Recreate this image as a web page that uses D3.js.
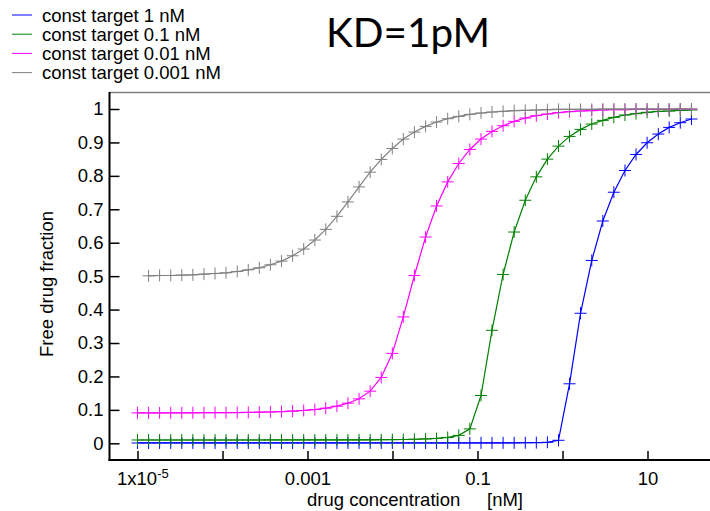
<!DOCTYPE html>
<html>
<head>
<meta charset="utf-8">
<script src="https://cdn.jsdelivr.net/npm/d3@7"></script>
<style>
body { margin: 0; background: #fff; }
text { font-family: "Liberation Sans", Arial, sans-serif; }
</style>
</head>
<body>
<svg id="chart" width="710" height="511"></svg>
<script>
// drug concentration [nM], one value per marker
var conc = [1.0e-5, 1.35e-5, 1.82e-5, 2.46e-5, 3.32e-5, 4.48e-5, 6.05e-5, 8.17e-5, 1.10e-4, 1.49e-4,
            2.01e-4, 2.71e-4, 3.66e-4, 4.95e-4, 6.68e-4, 9.02e-4, 1.22e-3, 1.64e-3, 2.22e-3, 2.99e-3,
            4.04e-3, 5.46e-3, 7.37e-3, 9.95e-3, 0.0134, 0.0181, 0.0245, 0.0330, 0.0446, 0.0602,
            0.0813, 0.110, 0.148, 0.200, 0.270, 0.365, 0.492, 0.664, 0.897, 1.21,
            1.63, 2.21, 2.98, 4.02, 5.43, 7.33, 9.89, 13.4, 18.0, 24.3, 32.9];

var target1 = [0.001, 0.001, 0.001, 0.001, 0.001, 0.001, 0.001, 0.001, 0.001, 0.001,
               0.001, 0.001, 0.001, 0.001, 0.001, 0.001, 0.001, 0.001, 0.001, 0.001,
               0.001, 0.001, 0.001, 0.001, 0.001, 0.001, 0.001, 0.001, 0.001, 0.001,
               0.001, 0.0011, 0.0012, 0.0013, 0.0014, 0.0016, 0.002, 0.003, 0.009, 0.178,
               0.389, 0.547, 0.665, 0.751, 0.816, 0.864, 0.899, 0.925, 0.945, 0.959, 0.970];

var target01 = [0.0099, 0.0099, 0.0099, 0.0099, 0.0099, 0.0099, 0.0099, 0.0099, 0.0099, 0.0099,
                0.0099, 0.0099, 0.0100, 0.0100, 0.0100, 0.0100, 0.0101, 0.0101, 0.0101, 0.0102,
                0.0103, 0.0105, 0.0107, 0.0110, 0.0114, 0.0121, 0.0131, 0.0146, 0.0175, 0.0237,
                0.0431, 0.143, 0.338, 0.505, 0.632, 0.727, 0.797, 0.850, 0.889, 0.918,
                0.939, 0.955, 0.966, 0.975, 0.982, 0.986, 0.990, 0.993, 0.994, 0.996, 0.997];

var target001 = [0.0910, 0.0910, 0.0911, 0.0911, 0.0912, 0.0913, 0.0914, 0.0915, 0.0917, 0.0920,
                 0.0924, 0.0930, 0.0937, 0.0948, 0.0962, 0.0982, 0.101, 0.105, 0.111, 0.120,
                 0.133, 0.156, 0.197, 0.269, 0.378, 0.502, 0.617, 0.710, 0.782, 0.837,
                 0.879, 0.910, 0.933, 0.950, 0.963, 0.973, 0.980, 0.985, 0.989, 0.992,
                 0.994, 0.995, 0.997, 0.998, 0.998, 0.999, 0.999, 0.999, 0.999, 1.0, 1.0];

// gray curve has no marker at the first concentration
var target0001 = [null, 0.501, 0.502, 0.502, 0.503, 0.504, 0.506, 0.508, 0.510, 0.514,
                  0.519, 0.525, 0.534, 0.545, 0.561, 0.581, 0.608, 0.640, 0.679, 0.722,
                  0.767, 0.811, 0.849, 0.882, 0.910, 0.931, 0.948, 0.961, 0.971, 0.978,
                  0.984, 0.988, 0.991, 0.993, 0.995, 0.996, 0.997, 0.998, 0.999, 0.999,
                  0.999, 0.999, 1.0, 1.0, 1.0, 1.0, 1.0, 1.0, 1.0, 1.0, 1.0];

var seriesNames = ["const target 1 nM", "const target 0.1 nM", "const target 0.01 nM", "const target 0.001 nM"];
var seriesColors = ["#0000ff", "#008000", "#ff00ff", "#808080"];
var seriesValues = [target1, target01, target001, target0001];

var xTicks = [1e-5, 1e-4, 1e-3, 1e-2, 1e-1, 1, 10];
var xLabels = {"1e-5": "1x10", "0.001": "0.001", "0.1": "0.1", "10": "10"};
var yTicks = [0, 0.1, 0.2, 0.3, 0.4, 0.5, 0.6, 0.7, 0.8, 0.9, 1];

var svgW = 710, svgH = 511;
var plotLeft = 109.5, plotRight = 710, plotTop = 92.5, plotBottom = 460;
var fontSize = 18.5;

var svg = d3.select("#chart");
svg.append("rect").attr("width", svgW).attr("height", svgH).attr("fill", "#fff");

var xScale = d3.scaleLog().domain([1e-5, 10]).range([137.5, 647.5]);
var yScale = d3.scaleLinear().domain([0, 1]).range([443.3, 109]);

// frame
svg.append("line")
  .attr("x1", plotLeft).attr("x2", plotRight)
  .attr("y1", plotTop).attr("y2", plotTop)
  .attr("stroke", "#808080").attr("stroke-width", 1.5);

// x axis
var xAxis = d3.axisBottom(xScale)
  .tickValues(xTicks)
  .tickSize(-9)
  .tickFormat(function(d){ var k = String(d); return xLabels[k] || ""; });

var gx = svg.append("g")
  .attr("transform", "translate(0," + plotBottom + ")")
  .call(xAxis);
gx.select(".domain").remove();
gx.selectAll("line").attr("stroke", "#000").attr("stroke-width", 1.5);
gx.selectAll("text")
  .attr("y", 25).attr("dy", null)
  .attr("font-size", fontSize).attr("fill", "#000");
gx.selectAll("text").filter(function(d){ return d === 1e-5; })
  .each(function(){
    var t = d3.select(this);
    t.text(null).attr("text-anchor", "start").attr("x", -21);
    t.append("tspan").text("1x10");
    t.append("tspan").attr("font-size", 13).attr("dy", -7).text("-5");
  });

// y axis
var yAxis = d3.axisLeft(yScale)
  .tickValues(yTicks)
  .tickSize(-10)
  .tickPadding(6)
  .tickFormat(d3.format(""));

var gy = svg.append("g")
  .attr("transform", "translate(" + plotLeft + ",0)")
  .call(yAxis);
gy.select(".domain").remove();
gy.selectAll("line").attr("stroke", "#000").attr("stroke-width", 1.5);
gy.selectAll("text").attr("font-size", fontSize).attr("fill", "#000");

// axis lines
svg.append("line")
  .attr("x1", plotLeft).attr("x2", plotLeft)
  .attr("y1", plotTop - 0.5).attr("y2", plotBottom + 1)
  .attr("stroke", "#000").attr("stroke-width", 2);
svg.append("line")
  .attr("x1", plotLeft - 1).attr("x2", plotRight)
  .attr("y1", plotBottom).attr("y2", plotBottom)
  .attr("stroke", "#000").attr("stroke-width", 2);

// curves
var line = d3.line()
  .defined(function(d){ return d.v != null; })
  .x(function(d){ return xScale(d.c); })
  .y(function(d){ return yScale(d.v); });

seriesValues.forEach(function(vals, s){
  var pts = vals.map(function(v, i){ return {c: conc[i], v: v}; });
  var g = svg.append("g");
  g.append("path")
    .attr("d", line(pts))
    .attr("fill", "none")
    .attr("stroke", seriesColors[s])
    .attr("stroke-width", 1.2);
  g.selectAll("path.mark")
    .data(pts.filter(function(d){ return d.v != null; }))
    .enter()
    .append("path")
      .attr("class", "mark")
      .attr("d", "M-6,0H6M0,-6V6")
      .attr("transform", function(d){ return "translate(" + xScale(d.c) + "," + yScale(d.v) + ")"; })
      .attr("stroke", seriesColors[s])
      .attr("stroke-width", 1)
      .attr("fill", "none");
});

// legend
var legend = svg.append("g");
seriesNames.forEach(function(name, s){
  var y = 15 + s * 19.2;
  legend.append("line")
    .attr("x1", 12).attr("x2", 32)
    .attr("y1", y).attr("y2", y)
    .attr("stroke", seriesColors[s]).attr("stroke-width", 1);
  legend.append("text")
    .attr("x", 42).attr("y", y + 6.5)
    .attr("font-size", fontSize)
    .text(name);
});

// titles
svg.append("text")
  .attr("x", 326).attr("y", 46.7)
  .attr("font-size", 41)
  .style("font-family", "Lato, 'Open Sans', sans-serif")
  .attr("textLength", 164)
  .attr("lengthAdjust", "spacingAndGlyphs")
  .text("KD=1pM");

svg.append("text")
  .attr("transform", "translate(53,284) rotate(-90)")
  .attr("text-anchor", "middle")
  .attr("font-size", fontSize)
  .text("Free drug fraction");

svg.append("text")
  .attr("x", 307).attr("y", 506)
  .attr("font-size", fontSize)
  .text("drug concentration");
svg.append("text")
  .attr("x", 487).attr("y", 506)
  .attr("font-size", fontSize)
  .text("[nM]");
</script>
</body>
</html>
